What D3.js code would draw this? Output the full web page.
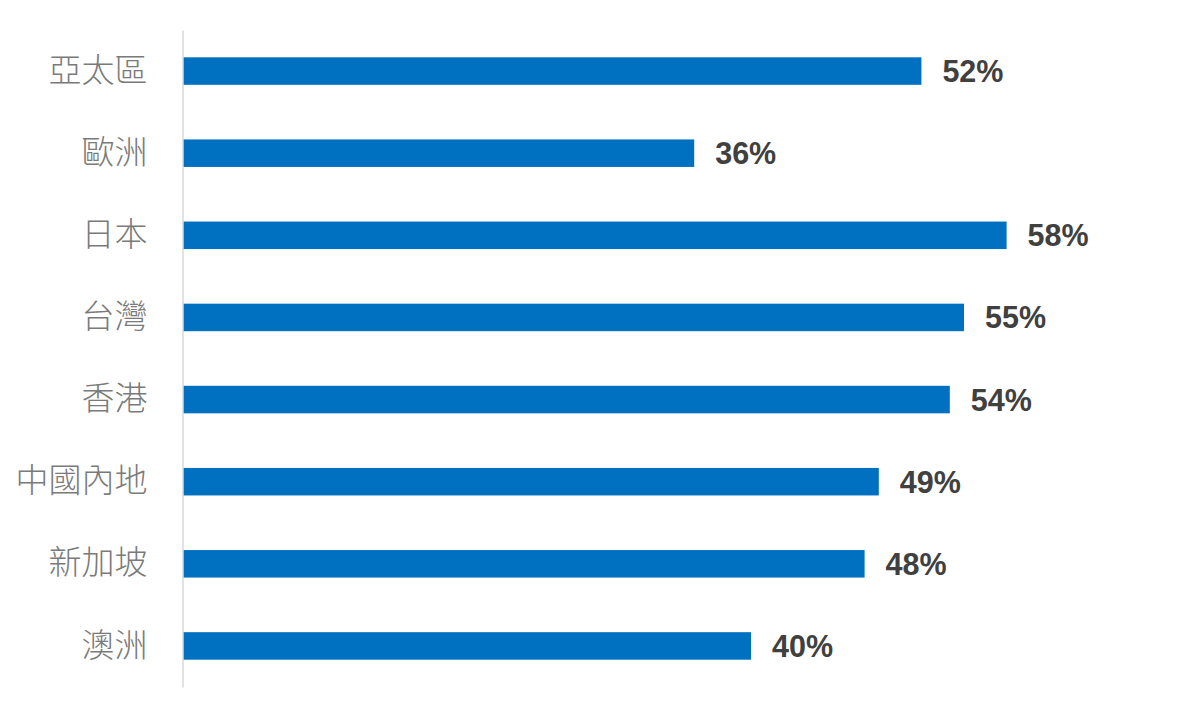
<!DOCTYPE html>
<html>
<head>
<meta charset="utf-8">
<script src="https://cdn.jsdelivr.net/npm/d3@7"></script>
<style>
  body { margin: 0; background: #fff; }
</style>
</head>
<body>
<div class="barchart"></div>
<script>
var regions = ["亞太區", "歐洲", "日本", "台灣", "香港", "中國內地", "新加坡", "澳洲"]
var shares = [52, 36, 58, 55, 54, 49, 48, 40]

var width = 1200
var height = 718
var axisX = 183

var xScale = d3.scaleLinear().domain([0, 60]).range([axisX, axisX + 852])
var yScale = d3.scaleBand().domain(regions).range([30, 687])
    .paddingInner(0.665).paddingOuter(0.3325)

var svg = d3.select(".barchart")
    .append("svg")
        .attr("width", width)
        .attr("height", height)

var data = regions.map((r, i) => ({region: r, value: shares[i]}))

svg.selectAll(".bar")
    .data(data)
    .enter().append("rect")
    .attr("class", "bar")
    .attr("x", xScale(0))
    .attr("y", d => yScale(d.region))
    .attr("width", d => xScale(d.value) - xScale(0))
    .attr("height", yScale.bandwidth())
    .style("fill", "#0070c0")

// value labels
svg.selectAll(".val")
    .data(data)
    .enter().append("text")
    .attr("class", "val")
    .attr("x", d => xScale(d.value) + 21)
    .attr("y", d => yScale(d.region) + yScale.bandwidth() / 2)
    .attr("dy", "0.36em")
    .style("font-family", "'Liberation Sans', Arial, sans-serif")
    .style("font-weight", "bold")
    .style("font-size", "30.5px")
    .style("fill", "#404040")
    .text(d => d.value + "%")

// category axis
var yAxis = d3.axisLeft(yScale).tickSize(0).tickPadding(35)
var gy = svg.append("g")
    .attr("transform", "translate(" + (axisX - 0.5) + ",0)")
    .call(yAxis)
gy.select(".domain").attr("stroke", "#d9d9d9").attr("stroke-width", 1.5)
gy.selectAll("text")
    .style("font-family", "'Noto Sans CJK TC', 'Noto Sans CJK SC', sans-serif")
    .style("font-size", "33px")
    .style("font-weight", 300)
    .style("fill", "#7a7a7a")
</script>
</body>
</html>
